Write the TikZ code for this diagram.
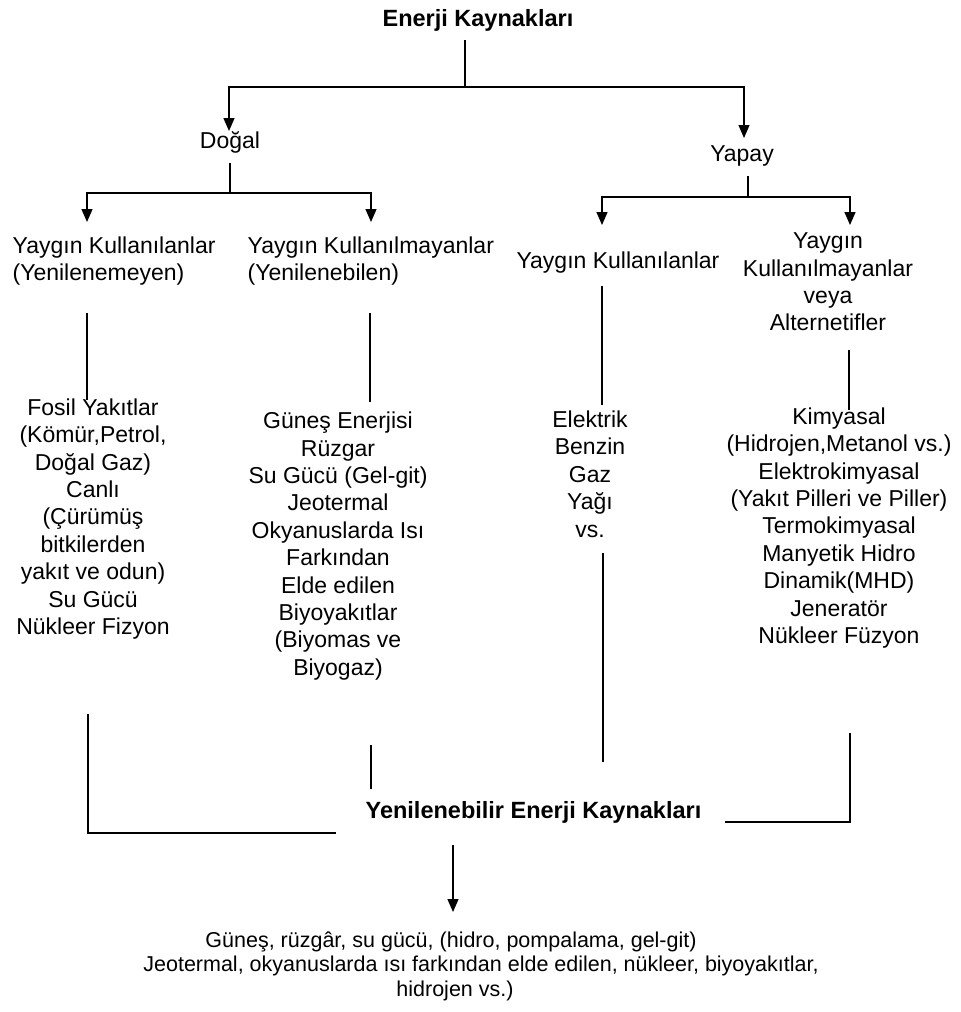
\documentclass[tikz,border=0pt]{standalone}
\usepackage{fontspec}
\setmainfont{Liberation Sans}
\usetikzlibrary{arrows.meta}

\begin{document}
\begin{tikzpicture}[x=1pt, y=-1pt, line width=1.3pt,
		txt/.style={inner sep=0pt, align=center, font=\fontsize{23}{27.4}\selectfont},
		baslik/.style={inner sep=0pt, font=\bfseries\fontsize{23.5}{27}\selectfont},
		ok/.style={-{Triangle[width=11pt, length=13pt]}}]
	\useasboundingbox (0,0) rectangle (961,1012);

	% ust basamak
	\node [baslik] (EK) at (478,20) {Enerji Kaynakları};
	\node [txt] (DG) at (230,142) {Doğal};
	\node [txt] (YP) at (742,156) {Yapay};

	\coordinate (EKa) at (465,40);
	\coordinate (EKb) at (465,87);
	\coordinate (DGt) at (229,131);
	\coordinate (YPt) at (744,138);

	\draw (EKa) -- (EKb);
	\draw [ok] (EKb) -| (DGt);
	\draw [ok] (EKb) -| (YPt);

	% ikinci basamak
	\node [txt, align=left, anchor=west] (YK1) at (12,261) {Yaygın Kullanılanlar\\(Yenilenemeyen)};
	\node [txt, align=left, anchor=west] (YK2) at (247,261) {Yaygın Kullanılmayanlar\\(Yenilenebilen)};
	\node [txt] (YK3) at (618,263) {Yaygın Kullanılanlar};
	\node [txt] (YK4) at (828,282) {Yaygın\\Kullanılmayanlar\\veya\\Alternetifler};

	\coordinate (DGa) at (230,163);
	\coordinate (DGb) at (230,193);
	\coordinate (YK1t) at (87,222);
	\coordinate (YK2t) at (371,222);
	\draw (DGa) -- (DGb);
	\draw [ok] (DGb) -| (YK1t);
	\draw [ok] (DGb) -| (YK2t);

	\coordinate (YPa) at (748,176);
	\coordinate (YPb) at (748,197);
	\coordinate (YK3t) at (602,225);
	\coordinate (YK4t) at (850,225);
	\draw (YPa) -- (YPb);
	\draw [ok] (YPb) -| (YK3t);
	\draw [ok] (YPb) -| (YK4t);

	% kaynak listeleri
	\node [txt] (FY) at (93,519) {Fosil Yakıtlar\\(Kömür,Petrol,\\Doğal Gaz)\\Canlı\\(Çürümüş\\bitkilerden\\yakıt ve odun)\\Su Gücü\\Nükleer Fizyon};
	\node [txt] (GE) at (338,546) {Güneş Enerjisi\\Rüzgar\\Su Gücü (Gel-git)\\Jeotermal\\Okyanuslarda Isı\\Farkından\\Elde edilen\\Biyoyakıtlar\\(Biyomas ve\\Biyogaz)};
	\node [txt] (EL) at (590,474) {Elektrik\\Benzin\\Gaz\\Yağı\\vs.};
	\node [txt] (KM) at (839,528) {Kimyasal\\(Hidrojen,Metanol vs.)\\Elektrokimyasal\\(Yakıt Pilleri ve Piller)\\Termokimyasal\\Manyetik Hidro\\Dinamik(MHD)\\Jeneratör\\Nükleer Füzyon};

	\coordinate (A1) at (87,313);
	\coordinate (A2) at (87,400);
	\coordinate (B1) at (370,313);
	\coordinate (B2) at (370,402);
	\coordinate (C1) at (602,286);
	\coordinate (C2) at (602,405);
	\coordinate (D1) at (849,350);
	\coordinate (D2) at (849,410);
	\draw (A1) -- (A2);
	\draw (B1) -- (B2);
	\draw (C1) -- (C2);
	\draw (D1) -- (D2);

	% yenilenebilir kaynaklar
	\node [baslik, anchor=west] (YE) at (365,812) {Yenilenebilir Enerji Kaynakları};

	\coordinate (A3) at (88,714);
	\coordinate (A4) at (88,833);
	\coordinate (A5) at (336,833);
	\coordinate (B3) at (371,745);
	\coordinate (B4) at (371,789);
	\coordinate (C3) at (603,553);
	\coordinate (C4) at (603,762);
	\coordinate (D3) at (850,733);
	\coordinate (D4) at (850,822);
	\coordinate (D5) at (725,822);
	\draw (A3) -- (A4) -- (A5);
	\draw (B3) -- (B4);
	\draw (C3) -- (C4);
	\draw (D3) -- (D4) -- (D5);

	\node [txt, font=\fontsize{21.5}{24.5}\selectfont] (SON) at (481,966) {Güneş, rüzgâr, su gücü, (hidro, pompalama, gel-git)\hspace*{60pt}\\Jeotermal, okyanuslarda ısı farkından elde edilen, nükleer, biyoyakıtlar,\\hidrojen vs.)\hspace*{52pt}};

	\coordinate (YEa) at (453,845);
	\coordinate (YEb) at (453,912);
	\draw [ok] (YEa) -- (YEb);
\end{tikzpicture}
\end{document}
